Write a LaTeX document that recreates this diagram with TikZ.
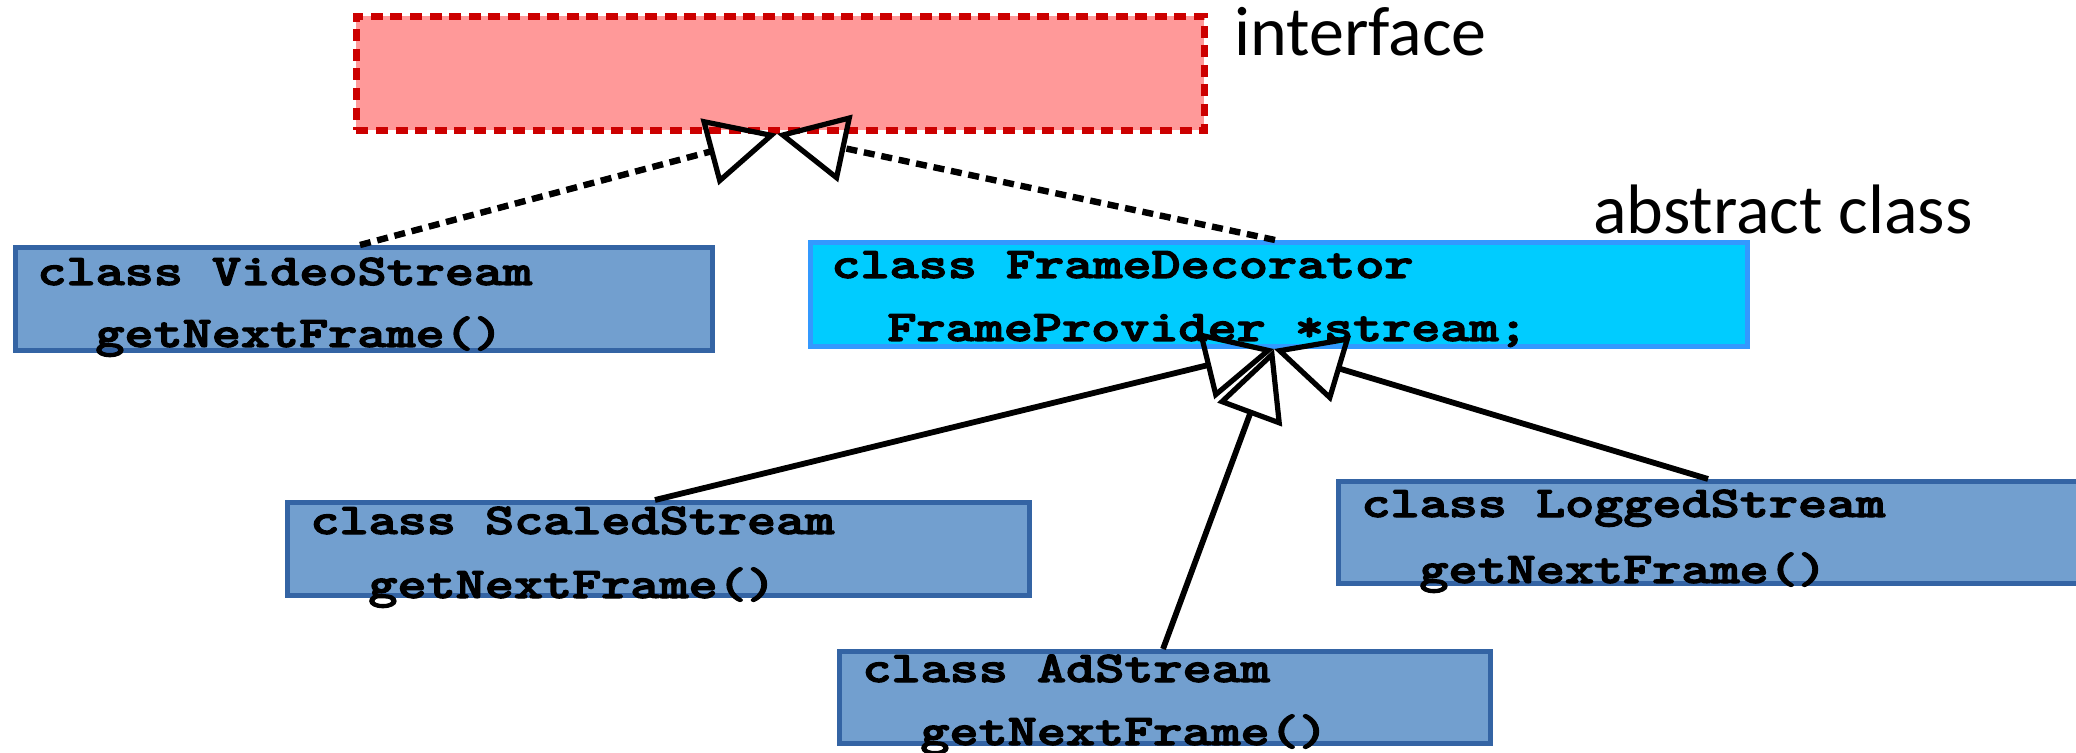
\documentclass[tikz,border=0pt]{standalone}
\usepackage{fontspec}
\usepackage{graphicx}
\usetikzlibrary{arrows.meta}
\newfontfamily\labelfont{Carlito}
\newfontfamily\codefont{lmmonolt10-bold.otf}[FakeBold=2.5]
\definecolor{ifcfill}{RGB}{255,153,153}
\definecolor{ifcdraw}{RGB}{204,0,0}
\definecolor{clsfill}{RGB}{114,159,207}
\definecolor{clsdraw}{RGB}{52,100,164}
\definecolor{absfill}{RGB}{0,204,255}
\definecolor{absdraw}{RGB}{51,153,255}
% monospaced code lines, widened to Courier-like proportions
\newcommand\codeline[1]{\scalebox{1.26}[1]{#1}}

\begin{document}
\begin{tikzpicture}[x=0.5pt,y=-0.5pt,
  box/.style={anchor=north west, inner sep=0pt, line width=2.5pt},
  ifcbox/.style={box, draw=ifcdraw, fill=ifcfill, line width=3.4pt,
    dash pattern=on 6pt off 3.8pt},
  clsbox/.style={box, draw=clsdraw, fill=clsfill},
  absbox/.style={box, draw=absdraw, fill=absfill},
  codetext/.style={anchor=base west, inner sep=0pt,
    font=\codefont\fontsize{22pt}{26pt}\selectfont},
  labeltext/.style={anchor=base west, inner sep=0pt,
    font=\labelfont\fontsize{35pt}{42pt}\selectfont},
  umltip/.style={-{Triangle[open, length=35pt, width=34pt, line width=2.6pt]}},
  implements/.style={umltip, line width=3.2pt, dash pattern=on 5.5pt off 3.4pt},
  inherits/.style={umltip, line width=2.9pt},
]
\path[use as bounding box, clip] (0,0) rectangle (2076,753);

% interface
\node[ifcbox, minimum width=424pt, minimum height=57pt] (ifc) at (353,13) {};
\node[labeltext] (ifclbl) at (1234,56) {interface};

% concrete stream
\node[clsbox, minimum width=348.5pt, minimum height=51.5pt] (vs) at (13,245) {};
\node[codetext] (vs1) at (37,285) {\codeline{class VideoStream}};
\node[codetext] (vs2) at (95,347) {\codeline{getNextFrame()}};

% abstract decorator
\node[labeltext] (abslbl) at (1593,234) {abstract class};
\node[absbox, minimum width=468.5pt, minimum height=52pt] (fd) at (808,240) {};
\node[codetext] (fd1) at (831,278) {\codeline{class FrameDecorator}};
\node[codetext] (fd2) at (887,341) {\codeline{FrameProvider *stream;}};

% concrete decorators
\node[clsbox, minimum width=371pt, minimum height=46.5pt] (ss) at (285,500) {};
\node[codetext] (ss1) at (310,534) {\codeline{class ScaledStream}};
\node[codetext] (ss2) at (368,598) {\codeline{getNextFrame()}};

\node[clsbox, minimum width=325.5pt, minimum height=46pt] (ad) at (837,649) {};
\node[codetext] (ad1) at (862,682) {\codeline{class AdStream}};
\node[codetext] (ad2) at (920,745) {\codeline{getNextFrame()}};

\node[clsbox, minimum width=377pt, minimum height=51pt] (ls) at (1336,479) {};
\node[codetext] (ls1) at (1361,517) {\codeline{class LoggedStream}};
\node[codetext] (ls2) at (1419,583) {\codeline{getNextFrame()}};

% attachment points
\coordinate (ifctip) at ([xshift=212pt]ifc.south west);
\coordinate (fdtip)  at ([xshift=233pt]fd.south west);
\coordinate (fdtop)  at ([xshift=233.5pt]fd.north west);
\coordinate (vstop)  at ([xshift=173.5pt]vs.north west);
\coordinate (sstop)  at ([xshift=185pt]ss.north west);
\coordinate (adtop)  at ([xshift=163pt]ad.north west);
\coordinate (lstop)  at ([xshift=186pt]ls.north west);

% realization
\draw[implements] (vstop) -- (ifctip);
\draw[implements] (fdtop) -- (ifctip);

% inheritance
\draw[inherits] (sstop) -- (fdtip);
\draw[inherits] (adtop) -- (fdtip);
\draw[inherits] (lstop) -- (fdtip);
\end{tikzpicture}
\end{document}
